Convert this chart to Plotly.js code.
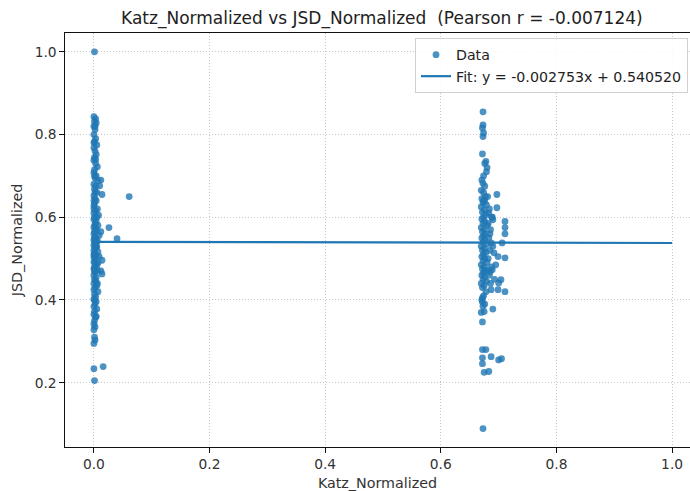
<!DOCTYPE html>
<html>
<head>
<meta charset="utf-8">
<script src="https://cdn.plot.ly/plotly-3.0.1.min.js"></script>
<style>html,body{margin:0;padding:0;background:#fff;}#chart{width:690px;height:491px;}</style>
</head>
<body>
<div id="chart"></div>
<script>
// Cluster near Katz = 0
const katzLow = [0.001,0.000,0.003,0.001,0.004,0.000,0.002,0.000,0.003,0.001,0.005,0.000,0.002,0.004,0.001,0.000,0.003,0.006,0.001,0.000,0.004,0.002,0.012,0.007,0.000,0.003,0.001,0.005,0.014,0.000,0.002,0.004,0.001,0.000,0.006,0.003,0.000,0.008,0.001,0.000,0.004,0.002,0.007,0.000,0.003,0.005,0.001,0.000,0.009,0.002,0.004,0.000,0.006,0.001,0.003,0.000,0.005,0.002,0.000,0.007,0.001,0.004,0.000,0.002,0.014,0.000,0.003,0.005,0.001,0.000,0.006,0.002,0.014,0.000,0.004,0.001,0.003,0.000,0.005,0.002,0.000,0.007,0.001,0.003,0.000,0.004,0.002,0.000,0.005,0.001,0.000,0.003,0.001,0.000,0.002,0.000,0.001,0.002,0.000,0.000,0.001,
0.000,0.002,0.001,0.004,0.000,0.002,0.001,0.005,0.000,0.002,0.001,0.003,0.000,0.002,0.006,0.001,0.004,0.010,0.007,0.012,0.009,
0.061,0.026,0.040,0.012,0.016];
const jsdLow = [1.000,0.843,0.838,0.832,0.828,0.820,0.812,0.800,0.790,0.783,0.775,0.768,0.760,0.752,0.745,0.738,0.730,0.722,0.715,0.708,0.700,0.695,0.690,0.688,0.680,0.675,0.668,0.660,0.655,0.652,0.645,0.640,0.633,0.628,0.620,0.615,0.610,0.605,0.600,0.595,0.590,0.585,0.580,0.576,0.572,0.568,0.565,0.560,0.556,0.552,0.548,0.545,0.542,0.538,0.535,0.532,0.528,0.525,0.520,0.516,0.512,0.508,0.504,0.500,0.496,0.492,0.488,0.484,0.480,0.476,0.472,0.468,0.463,0.460,0.455,0.450,0.445,0.440,0.435,0.430,0.425,0.420,0.414,0.408,0.402,0.396,0.390,0.384,0.378,0.372,0.365,0.358,0.350,0.342,0.335,0.328,0.310,0.303,0.295,0.234,0.205,
0.620,0.580,0.550,0.530,0.510,0.490,0.470,0.600,0.640,0.660,0.700,0.740,0.780,0.820,0.440,0.400,0.360,0.676,0.490,0.470,0.505,
0.650,0.575,0.548,0.565,0.239];

// Cluster near Katz = 0.68
const katzMid = [0.673,0.673,0.672,0.674,0.673,0.672,0.678,0.676,0.680,0.679,0.674,0.671,0.673,0.676,0.697,0.697,0.711,0.711,0.690,0.711,0.687,0.706,0.692,0.699,0.711,0.695,0.689,0.685,0.704,0.693,0.700,0.687,0.699,0.711,0.672,0.690,0.672,0.672,0.678,0.687,0.672,0.700,0.705,0.672,0.675,0.683,0.673,
0.670,0.674,0.677,0.671,0.676,0.673,0.679,0.670,0.675,0.672,0.678,0.674,0.671,0.676,0.673,0.680,0.670,0.675,0.672,0.677,0.674,0.671,0.676,0.673,0.679,0.670,0.675,0.672,0.678,0.674,0.671,0.676,0.673,0.680,0.670,0.675,0.672,0.677,0.674,0.671,0.676,0.673,0.679,0.670,0.675,0.672,0.678,0.674,0.671,0.676,0.673,0.670,0.675,0.672,0.674,
0.684,0.688,0.682,0.686,0.683,0.690,0.685,0.682,0.688,0.684,0.686,0.683,0.681,0.685,0.689,0.682];
const jsdMid = [0.855,0.823,0.816,0.804,0.795,0.753,0.735,0.730,0.720,0.710,0.700,0.690,0.682,0.675,0.655,0.623,0.590,0.575,0.594,0.560,0.538,0.538,0.514,0.505,0.502,0.485,0.473,0.468,0.449,0.450,0.441,0.425,0.425,0.420,0.405,0.378,0.347,0.280,0.280,0.263,0.260,0.255,0.258,0.246,0.225,0.227,0.089,
0.665,0.660,0.650,0.645,0.640,0.635,0.630,0.625,0.618,0.612,0.606,0.600,0.596,0.590,0.585,0.580,0.575,0.570,0.565,0.560,0.555,0.550,0.545,0.540,0.535,0.530,0.525,0.520,0.515,0.510,0.505,0.500,0.495,0.490,0.485,0.480,0.475,0.470,0.465,0.460,0.455,0.450,0.445,0.440,0.435,0.430,0.420,0.410,0.400,0.390,0.385,0.370,0.372,0.395,
0.640,0.620,0.600,0.585,0.570,0.550,0.530,0.520,0.500,0.480,0.460,0.440,0.610,0.650,0.560,0.600];

// Outlier at Katz = 1
const katzHigh = [0.997];
const jsdHigh = [0.473];

const katzAll = katzLow.concat(katzMid, katzHigh);
const jsdAll = jsdLow.concat(jsdMid, jsdHigh);

const fitSlope = -0.002753;
const fitIntercept = 0.540520;
const fitX = [0, 1];
const fitY = fitX.map(v => fitSlope * v + fitIntercept);

const titleText = 'Katz_Normalized vs JSD_Normalized  (Pearson r = -0.007124)';
const xTitle = 'Katz_Normalized';
const yTitle = 'JSD_Normalized';
const xTicks = [0, 0.2, 0.4, 0.6, 0.8, 1.0];
const yTicks = [0.2, 0.4, 0.6, 0.8, 1.0];

const blue = '#1f77b4';
const fam = 'DejaVu Sans';

const traces = [
  {
    x: katzAll, y: jsdAll, type: 'scatter', mode: 'markers', name: 'Data',
    marker: {color: blue, size: 6.8, opacity: 0.8, line: {width: 0}}
  },
  {
    x: fitX, y: fitY, type: 'scatter', mode: 'lines',
    name: 'Fit: y = ' + fitSlope.toFixed(6) + 'x + ' + fitIntercept.toFixed(6),
    line: {color: blue, width: 2.2}
  }
];

const axisCommon = {
  showline: true, linecolor: '#111', linewidth: 1.1,
  ticks: 'outside', ticklen: 4.5, tickcolor: '#111', tickwidth: 1,
  showgrid: true, gridcolor: '#c8c8c8', griddash: '1px,2px', gridwidth: 1,
  zeroline: false,
  tickfont: {family: fam, size: 13.8, color: '#333'},
  tickformat: '.1f'
};

const layout = {
  width: 690, height: 491,
  margin: {l: 65, r: 0, t: 33, b: 44, autoexpand: false},
  paper_bgcolor: '#fff', plot_bgcolor: '#fff',
  font: {family: fam, size: 14, color: '#333'},
  title: {text: titleText, font: {family: fam, size: 17, color: '#222'},
          x: 0.507, xanchor: 'center', xref: 'paper', y: 0.963, yanchor: 'middle'},
  xaxis: Object.assign({}, axisCommon, {
    range: [-0.05, 1.031], tickvals: xTicks, mirror: true,
    title: {text: xTitle, font: {family: fam, size: 14.3, color: '#333'}, standoff: 6}
  }),
  yaxis: Object.assign({}, axisCommon, {
    range: [0.0445, 1.0455], tickvals: yTicks,
    title: {text: yTitle, font: {family: fam, size: 14.3, color: '#333'}, standoff: 8}
  }),
  showlegend: true,
  legend: {
    x: 0.56, y: 0.988, xanchor: 'left', yanchor: 'top',
    bgcolor: 'rgba(255,255,255,0.85)', bordercolor: '#d0d0d0', borderwidth: 1,
    font: {family: fam, size: 14.2, color: '#222'},
    tracegroupgap: 0
  }
};

Plotly.newPlot('chart', traces, layout, {displayModeBar: false, staticPlot: true});
</script>
</body>
</html>
